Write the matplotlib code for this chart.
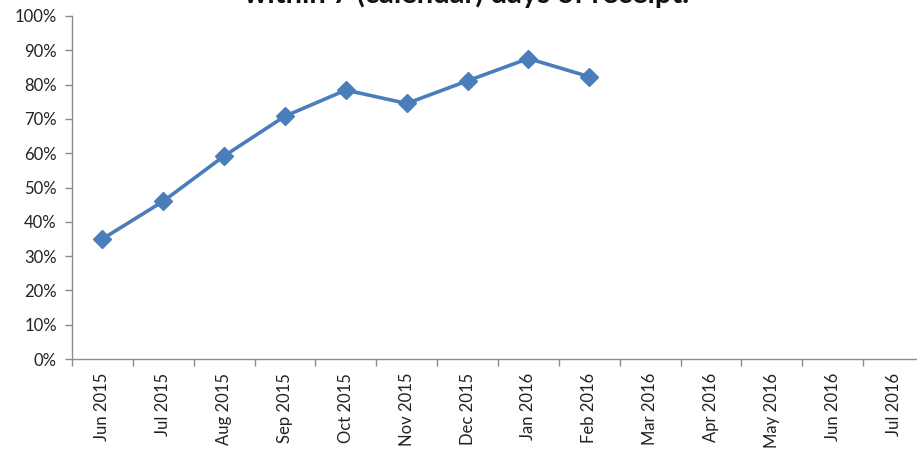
import matplotlib
matplotlib.use("Agg")
import matplotlib.pyplot as plt
import numpy as np
from matplotlib.ticker import FixedLocator, PercentFormatter

months = ["Jun 2015", "Jul 2015", "Aug 2015", "Sep 2015", "Oct 2015", "Nov 2015",
          "Dec 2015", "Jan 2016", "Feb 2016", "Mar 2016", "Apr 2016", "May 2016",
          "Jun 2016", "Jul 2016"]
values = [35.0, 46.0, 59.2, 70.8, 78.4, 74.5, 81.1, 87.6, 82.3]
y_ticks = [0, 10, 20, 30, 40, 50, 60, 70, 80, 90, 100]
title_line = "within 7 (calendar) days of receipt."

plt.rcParams['font.family'] = ['Lato', 'DejaVu Sans']

W, H = 917, 453
fig = plt.figure(figsize=(W / 100, H / 100), dpi=100)
left, right, top, bottom = 72, 924, 16, 359
ax = fig.add_axes([left / W, 1 - bottom / H, (right - left) / W, (bottom - top) / H])

x = np.arange(len(values))
ax.plot(x, values, color="#4a7ebb", lw=2.6, marker="D", markersize=9,
        markeredgecolor="#4a7ebb", markerfacecolor="#4a7ebb", clip_on=False, zorder=3)

ax.set_xlim(-0.5, len(months) - 0.5)
ax.set_ylim(0, 100)

ax.xaxis.set_major_locator(FixedLocator(np.arange(-0.5, len(months) + 0.5, 1)))
ax.xaxis.set_major_formatter(plt.NullFormatter())
ax.xaxis.set_minor_locator(FixedLocator(np.arange(len(months))))
ax.set_xticklabels(months, minor=True, rotation=90, fontsize=12, color="#222222")
ax.tick_params(axis="x", which="minor", length=0, pad=10)
ax.tick_params(axis="x", which="major", length=5, width=1, color="#8c8c8c", direction="out")

ax.set_yticks(y_ticks)
ax.yaxis.set_major_formatter(PercentFormatter(decimals=0))
ax.tick_params(axis="y", length=5, width=1, color="#8c8c8c", direction="out",
               labelsize=12, labelcolor="#222222", pad=6)

for s in ["top", "right"]:
    ax.spines[s].set_visible(False)
for s in ["left", "bottom"]:
    ax.spines[s].set_color("#8c8c8c")
    ax.spines[s].set_linewidth(1)

fig.text(467 / W, 1 - 3.5 / H, title_line, ha="center", va="baseline",
         fontsize=21, fontweight="bold", color="#111111")

fig.savefig("out.png", dpi=100)
